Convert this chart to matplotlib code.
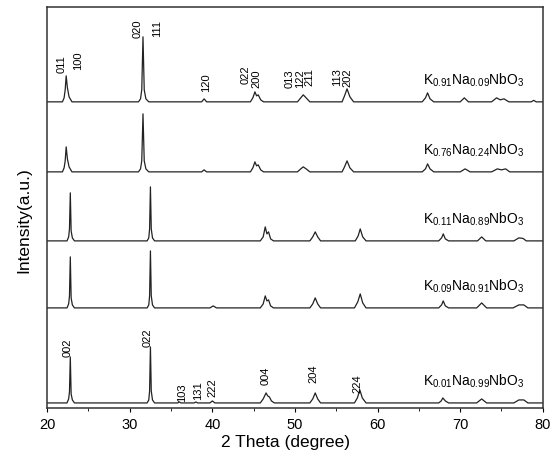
import matplotlib
matplotlib.use('Agg')
import matplotlib.pyplot as plt

plt.rcParams['font.family'] = ['Liberation Sans', 'DejaVu Sans']
plt.rcParams['mathtext.fontset'] = 'custom'
plt.rcParams['mathtext.rm'] = 'Liberation Sans'
plt.rcParams['mathtext.default'] = 'regular'

# compositions, top to bottom
samples = [r'K$_{0.91}$Na$_{0.09}$NbO$_3$',
           r'K$_{0.76}$Na$_{0.24}$NbO$_3$',
           r'K$_{0.11}$Na$_{0.89}$NbO$_3$',
           r'K$_{0.09}$Na$_{0.91}$NbO$_3$',
           r'K$_{0.01}$Na$_{0.99}$NbO$_3$']

# 2 theta / intensity (intensity above each baseline)
tt_091 = [20, 21.85, 22.05, 22.18, 22.3, 22.45, 22.65, 23.0,
          31.05, 31.3, 31.45, 31.6, 31.75, 31.95, 32.3,
          38.7, 39.0, 39.3,
          44.6, 44.9, 45.15, 45.35, 45.55, 45.85, 46.2,
          50.3, 50.7, 51.0, 51.35, 51.8,
          55.7, 56.0, 56.3, 56.65, 57.1,
          65.4, 65.8, 66.05, 66.35, 66.8,
          70.0, 70.5, 71.0,
          73.8, 74.4, 74.85, 75.3, 75.9,
          78.6, 78.9, 79.2, 80]
int_091 = [0, 0, 4, 12, 26, 14, 5, 0,
           0, 3, 12, 65, 12, 3, 0,
           0, 3, 0,
           0, 4, 10, 6, 7, 2, 0,
           0, 4, 7, 4, 0,
           0, 6, 13, 5, 0,
           0, 4, 9, 3, 0,
           0, 4, 0,
           0, 4, 2, 3, 0,
           0, 1.5, 0, 0]

tt_076 = [20, 21.85, 22.05, 22.18, 22.3, 22.45, 22.65, 23.0,
          31.05, 31.3, 31.45, 31.6, 31.75, 31.95, 32.3,
          38.7, 39.0, 39.3,
          44.6, 44.9, 45.15, 45.35, 45.55, 45.85, 46.2,
          50.3, 50.7, 51.0, 51.35, 51.8,
          55.7, 56.0, 56.3, 56.65, 57.1,
          65.4, 65.8, 66.05, 66.35, 66.8,
          70.0, 70.6, 71.2,
          73.8, 74.5, 75.0, 75.5, 76.0,
          80]
int_076 = [0, 0, 4, 11, 25, 13, 5, 0,
           0, 3, 11, 58, 11, 3, 0,
           0, 2, 0,
           0, 4, 10, 6, 7, 2, 0,
           0, 3, 5, 3, 0,
           0, 5, 11, 4, 0,
           0, 3, 8, 3, 0,
           0, 3, 0,
           0, 3, 2, 3, 0,
           0]

tt_011 = [20, 22.4, 22.6, 22.7, 22.8, 22.9, 23.05, 23.3,
          32.1, 32.3, 32.4, 32.5, 32.6, 32.75, 33.0,
          45.8, 46.15, 46.4, 46.6, 46.8, 47.05, 47.4,
          51.8, 52.15, 52.45, 52.75, 53.1,
          57.3, 57.65, 57.9, 58.2, 58.6,
          67.4, 67.75, 67.95, 68.2, 68.6,
          72.1, 72.6, 73.1,
          76.5, 77.1, 77.6, 78.0,
          80]
int_011 = [0, 0, 4, 12, 48, 10, 3, 0,
           0, 3, 12, 54, 12, 3, 0,
           0, 4, 14, 7, 9, 2, 0,
           0, 4, 9, 4, 0,
           0, 5, 12, 4, 0,
           0, 3, 7, 2, 0,
           0, 4, 0,
           0, 3, 2.5, 0,
           0]

tt_009 = [20, 22.4, 22.6, 22.7, 22.8, 22.9, 23.05, 23.3,
          32.1, 32.3, 32.4, 32.5, 32.6, 32.75, 33.0,
          39.7, 40.1, 40.5,
          45.8, 46.15, 46.4, 46.6, 46.8, 47.05, 47.4,
          51.8, 52.15, 52.45, 52.75, 53.1,
          57.2, 57.6, 57.9, 58.2, 58.6,
          67.4, 67.75, 67.95, 68.2, 68.6,
          72.0, 72.6, 73.2,
          76.4, 77.1, 77.7, 78.2,
          80]
int_009 = [0, 0, 4, 12, 51, 10, 3, 0,
           0, 3, 12, 57, 12, 3, 0,
           0, 2, 0,
           0, 4, 12, 7, 8, 2, 0,
           0, 4, 10, 4, 0,
           0, 6, 14, 5, 0,
           0, 3, 7, 2, 0,
           0, 5, 0,
           0, 3, 3, 0,
           0]

tt_001 = [20, 22.4, 22.6, 22.7, 22.8, 22.9, 23.05, 23.3,
          32.1, 32.3, 32.4, 32.5, 32.6, 32.75, 33.0,
          35.8, 36.0, 36.2,
          37.8, 38.0, 38.2,
          39.7, 40.0, 40.3,
          45.8, 46.15, 46.5, 46.7, 46.9, 47.15, 47.5,
          51.8, 52.15, 52.45, 52.75, 53.1,
          57.2, 57.55, 57.85, 58.15, 58.6,
          67.4, 67.7, 67.9, 68.2, 68.6,
          72.0, 72.6, 73.2,
          76.5, 77.1, 77.7, 78.2,
          80]
int_001 = [0, 0, 4, 11, 46, 9, 3, 0,
           0, 3, 12, 56, 12, 3, 0,
           0, 1, 0,
           0, 1, 0,
           0, 2, 0,
           0, 4, 10, 7, 6, 2, 0,
           0, 4, 10, 4, 0,
           0, 5, 13, 5, 0,
           0, 2, 5, 2, 0,
           0, 4, 0,
           0, 3, 3, 0,
           0]

angles = [tt_091, tt_076, tt_011, tt_009, tt_001]
intensities = [int_091, int_076, int_011, int_009, int_001]

# hkl indices, orthorhombic (top pattern) and monoclinic (bottom pattern)
hkl_top = ['011', '100', '020', '111', '120', '022', '200',
           '013', '122', '211', '113', '202']
hkl_bottom = ['002', '022', '103', '131', '222', '004', '204', '224']

offsets = [306, 236, 167, 100, 5]
hkl_top_x = [21.7, 23.75, 30.9, 33.3, 39.2, 44.0, 45.3,
             49.4, 50.6, 51.8, 55.1, 56.4]
hkl_top_y = [336, 339, 371, 372, 317, 325, 321, 321, 321, 323, 323, 322]
hkl_bottom_x = [22.5, 32.2, 36.3, 38.3, 40.0, 46.4, 52.2, 57.6]
hkl_bottom_y = [52, 62, 7, 9, 12, 24, 26, 16]

fig = plt.figure(figsize=(5.55, 4.6), dpi=100)
ax = fig.add_axes([0.085, 0.111, 0.893, 0.872])

for tt, inten, off, name in zip(angles, intensities, offsets, samples):
    ax.plot(tt, [v + off for v in inten], color='#222222', lw=0.9)
    ax.text(65.5, off + 18, name, fontsize=10, ha='left', va='baseline')

for lab, x, y in zip(hkl_top, hkl_top_x, hkl_top_y):
    ax.text(x, y, lab, rotation=90, fontsize=8, ha='center', va='bottom')
for lab, x, y in zip(hkl_bottom, hkl_bottom_x, hkl_bottom_y):
    ax.text(x, y, lab, rotation=90, fontsize=8, ha='center', va='bottom')

ax.set_xlim(20, 80)
ax.set_ylim(0, 401)
ax.set_xticks(range(20, 81, 10))
ax.set_xticks(range(25, 80, 10), minor=True)
ax.set_yticks([])
ax.tick_params(axis='x', which='major', direction='out', length=3, labelsize=10.5)
ax.tick_params(axis='x', which='minor', direction='out', length=2)
for sp in ax.spines.values():
    sp.set_linewidth(1.1)
    sp.set_color('#333333')

ax.set_xlabel('2 Theta (degree)', fontsize=12.5)
ax.set_ylabel('Intensity(a.u.)', fontsize=12.5)
ax.xaxis.set_label_coords(0.48, -0.065)
ax.yaxis.set_label_coords(-0.032, 0.47)

fig.savefig('out.png', dpi=100)
